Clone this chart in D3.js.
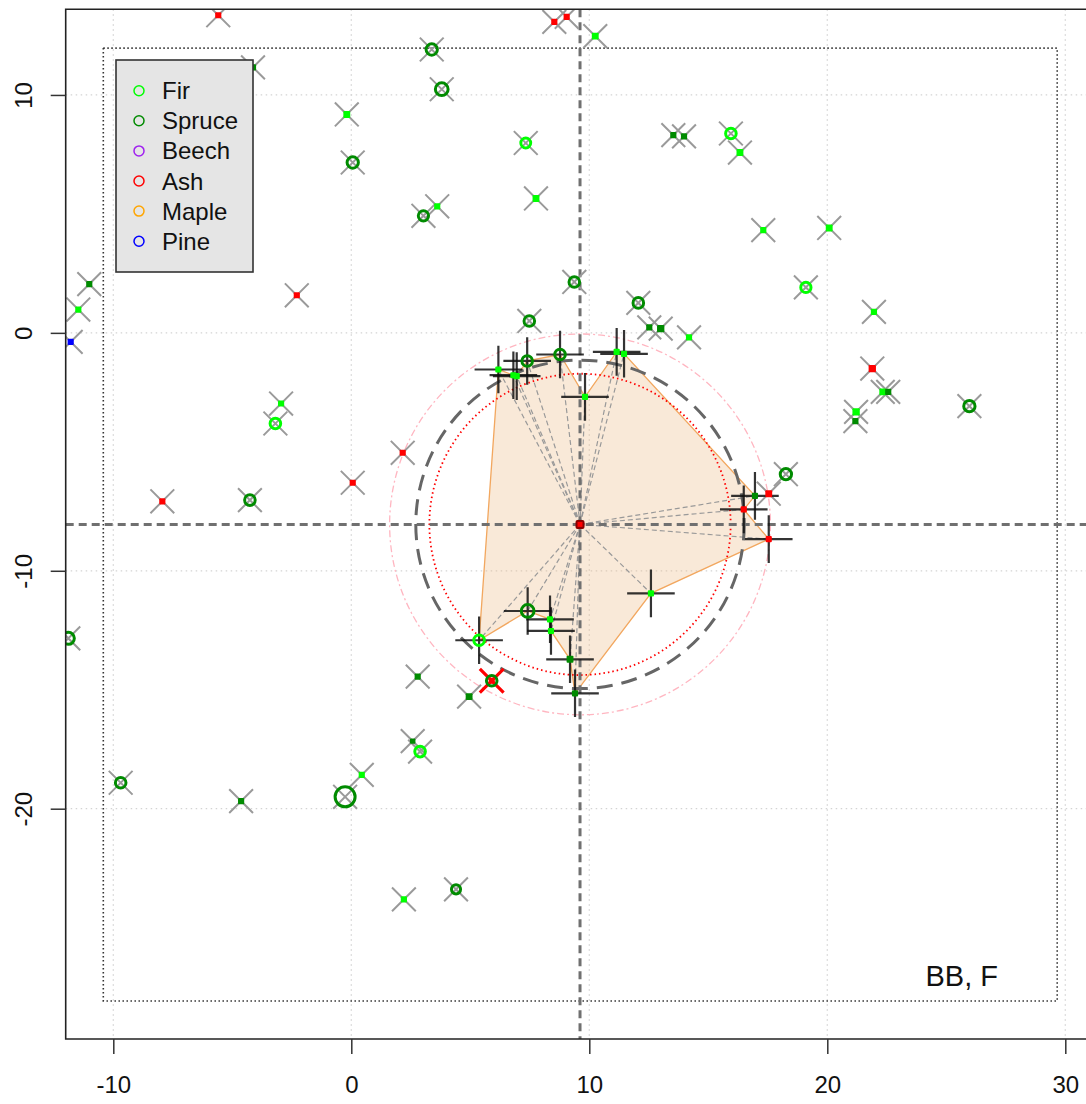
<!DOCTYPE html>
<html>
<head>
<meta charset="utf-8">
<script src="https://cdn.jsdelivr.net/npm/d3@7"></script>
<style>
  body { margin: 0; background: #fff; }
  svg { display: block; font-family: "Liberation Sans", Arial, sans-serif; }
</style>
</head>
<body>
<svg width="1086" height="1104"></svg>
<script>
const SPECIES = ["Fir", "Spruce", "Beech", "Ash", "Maple", "Pine"]
const SPECIES_COLORS = ["#00ff00", "#008b00", "#a020f0", "#ff0000", "#ffa500", "#0000ff"]

const X_TICKS = [-10, 0, 10, 20, 30]
const Y_TICKS = [-20, -10, 0, 10]
const PLOT_LABEL = "BB, F"

// focal tree and its neighbourhood radii (m)
const FOCAL = { x: 9.61, y: -8.05, sp: "Ash" }
const RADII = { inner: 6.33, mid: 6.9, outer: 8.0 }
const PLOT_BOUNDS = { x0: -10.42, x1: 29.66, y0: -28.08, y1: 11.97 }

// neighbours of the focal tree
const NB_SP = ["Fir", "Fir", "Fir", "Spruce", "Spruce", "Fir", "Fir", "Fir", "Spruce",
  "Ash", "Ash", "Fir", "Spruce", "Fir", "Fir", "Spruce", "Spruce", "Fir"]
const NB_X = [6.18, 6.81, 6.95, 7.39, 8.77, 9.82, 11.15, 11.46, 16.96,
  16.49, 17.54, 12.59, 7.41, 8.35, 8.39, 9.19, 9.40, 5.37]
const NB_Y = [-1.54, -1.78, -1.82, -1.18, -0.91, -2.69, -0.80, -0.88, -6.85,
  -7.42, -8.67, -10.95, -11.69, -12.04, -12.53, -13.72, -15.15, -12.92]
const NB_DBH = [15, 15, 15, 36, 36, 15, 15, 15, 15,
  15, 15, 15, 42, 15, 15, 18, 15, 36]

// all other trees on the plot
const BG_SP = ["Ash", "Spruce", "Fir", "Spruce", "Spruce", "Fir", "Pine", "Ash",
  "Ash", "Ash", "Fir", "Spruce", "Spruce", "Fir", "Fir", "Fir", "Spruce",
  "Spruce", "Spruce", "Spruce", "Spruce", "Spruce", "Spruce", "Fir", "Spruce",
  "Fir", "Fir", "Fir", "Fir", "Fir", "Fir", "Ash", "Fir", "Spruce", "Fir",
  "Spruce", "Spruce", "Spruce", "Ash", "Fir", "Fir", "Ash", "Spruce", "Ash",
  "Spruce", "Ash", "Spruce", "Spruce", "Spruce", "Spruce", "Spruce", "Fir",
  "Spruce", "Fir", "Fir", "Spruce"]
const BG_X = [-5.59, -4.13, -0.19, 0.06, -11.01, -11.47, -11.79, -2.29,
  8.53, 9.05, 10.25, 3.38, 3.80, 7.33, 7.76, 3.61, 3.03,
  13.53, 13.98, 9.37, 12.06, 12.52, 13.0, 14.19, 7.48,
  15.95, 16.33, 17.31, 20.08, 19.1, 21.96, 21.89, 22.33, 22.56, 21.21,
  21.18, 25.97, 18.26, 17.54, -2.95, -3.19, -7.94, -4.26, 0.06,
  -11.89, 2.16, 2.79, 4.95, -9.69, -4.63, -0.26, 0.44,
  2.58, 2.89, 2.21, 4.40]
const BG_Y = [13.35, 11.16, 9.18, 7.16, 2.05, 0.98, -0.38, 1.58,
  13.07, 13.28, 12.47, 11.91, 10.24, 7.98, 5.65, 5.32, 4.92,
  8.31, 8.26, 2.14, 1.26, 0.23, 0.18, -0.19, 0.50,
  8.38, 7.58, 4.32, 4.41, 1.91, 0.88, -1.50, -2.48, -2.48, -3.32,
  -3.71, -3.08, -5.94, -6.76, -2.97, -3.81, -7.08, -7.03, -6.30,
  -12.84, -5.04, -14.45, -15.29, -18.91, -19.68, -19.5, -18.58,
  -17.16, -17.6, -23.81, -23.39]
const BG_DBH = [15, 15, 18, 38, 15, 15, 15, 15,
  15, 15, 18, 38, 42, 34, 18, 15, 35,
  15, 15, 36, 36, 15, 20, 15, 36,
  36, 18, 15, 18, 35, 15, 20, 18, 15, 20,
  15, 38, 38, 18, 15, 36, 15, 36, 15,
  40, 15, 15, 18, 36, 15, 62, 15,
  12, 36, 15, 32]

// tree flagged for removal
const MARKED = { x: 5.90, y: -14.62, sp: "Spruce", dbh: 36 }

const RING_MIN_DBH = 30
const CROSS_HALF = 1.0   // neighbour cross arm (m)
const X_HALF = 0.5       // background x-mark arm (m)

const svg = d3.select("svg")
const x = d3.scaleLinear().domain([-12, 31.5]).range([65.7, 1101])
const y = d3.scaleLinear().domain([-29.68, 13.6]).range([1039, 9.3])
const color = d3.scaleOrdinal().domain(SPECIES).range(SPECIES_COLORS)
const ringR = d3.scaleLinear().domain([30, 62]).range([4.2, 10])
const dotSide = d3.scaleLinear().domain([10, 25]).range([5, 8.5])
const pxPerUnit = x(1) - x(0)

const [px0, px1] = x.range()
const [py1, py0] = y.range()

svg.append("defs").append("clipPath").attr("id", "plotclip")
  .append("rect")
  .attr("x", px0).attr("y", py0)
  .attr("width", px1 - px0).attr("height", py1 - py0)

const plot = svg.append("g").attr("clip-path", "url(#plotclip)")

// grid
plot.selectAll("line.gx").data(X_TICKS).enter().append("line")
  .attr("x1", (d) => x(d)).attr("x2", (d) => x(d))
  .attr("y1", py0).attr("y2", py1)
  .attr("stroke", "#d3d3d3").attr("stroke-width", 1.3).attr("stroke-dasharray", "1.5,3.5")
plot.selectAll("line.gy").data(Y_TICKS).enter().append("line")
  .attr("y1", (d) => y(d)).attr("y2", (d) => y(d))
  .attr("x1", px0).attr("x2", px1)
  .attr("stroke", "#d3d3d3").attr("stroke-width", 1.3).attr("stroke-dasharray", "1.5,3.5")

// plot boundary
plot.append("rect")
  .attr("x", x(PLOT_BOUNDS.x0)).attr("y", y(PLOT_BOUNDS.y1))
  .attr("width", x(PLOT_BOUNDS.x1) - x(PLOT_BOUNDS.x0))
  .attr("height", y(PLOT_BOUNDS.y0) - y(PLOT_BOUNDS.y1))
  .attr("fill", "none").attr("stroke", "#333").attr("stroke-width", 1.6)
  .attr("stroke-dasharray", "1.5,2.5")

const neighbours = NB_SP.map((sp, i) => ({ sp, x: NB_X[i], y: NB_Y[i], dbh: NB_DBH[i] }))
const background = BG_SP.map((sp, i) => ({ sp, x: BG_X[i], y: BG_Y[i], dbh: BG_DBH[i] }))

const fx = x(FOCAL.x), fy = y(FOCAL.y)

// outer dash-dot circle
plot.append("circle").attr("cx", fx).attr("cy", fy).attr("r", RADII.outer * pxPerUnit)
  .attr("fill", "none").attr("stroke", "#ffb6c1").attr("stroke-width", 1.3)
  .attr("stroke-dasharray", "7,3,2,3")

// neighbourhood polygon, vertices in angular order round the focal tree
const angle = (d) => Math.atan2(d.y - FOCAL.y, d.x - FOCAL.x)
const ordered = neighbours.slice().sort((a, b) => angle(a) - angle(b))
plot.append("path")
  .attr("d", d3.line().x((d) => x(d.x)).y((d) => y(d.y))(ordered) + "Z")
  .attr("fill", "rgba(238,188,138,0.33)")
  .attr("stroke", "#f2a75f").attr("stroke-width", 1.3)

// links to neighbours
plot.selectAll("line.link").data(neighbours).enter().append("line")
  .attr("x1", fx).attr("y1", fy)
  .attr("x2", (d) => x(d.x)).attr("y2", (d) => y(d.y))
  .attr("stroke", "#999").attr("stroke-width", 1.2).attr("stroke-dasharray", "5,3")

plot.append("circle").attr("cx", fx).attr("cy", fy).attr("r", RADII.inner * pxPerUnit)
  .attr("fill", "none").attr("stroke", "#ff0000").attr("stroke-width", 1.8)
  .attr("stroke-dasharray", "1.5,3")
plot.append("circle").attr("cx", fx).attr("cy", fy).attr("r", RADII.mid * pxPerUnit)
  .attr("fill", "none").attr("stroke", "#666").attr("stroke-width", 3)
  .attr("stroke-dasharray", "16,9")

// cross hair through focal tree
plot.append("line").attr("x1", fx).attr("x2", fx).attr("y1", py0).attr("y2", py1)
  .attr("stroke", "#707070").attr("stroke-width", 3).attr("stroke-dasharray", "8,5")
plot.append("line").attr("y1", fy).attr("y2", fy).attr("x1", px0).attr("x2", px1)
  .attr("stroke", "#707070").attr("stroke-width", 3).attr("stroke-dasharray", "8,5")

// gray x marks for the other trees
const xmark = (d, h) => `M${x(d.x - h)},${y(d.y - h)}L${x(d.x + h)},${y(d.y + h)}` +
  `M${x(d.x - h)},${y(d.y + h)}L${x(d.x + h)},${y(d.y - h)}`
plot.selectAll("path.xm").data(background).enter().append("path")
  .attr("d", (d) => xmark(d, X_HALF))
  .attr("stroke", "#9a9a9a").attr("stroke-width", 2).attr("fill", "none")

// crosses for neighbours
const cross = (d, h) => `M${x(d.x - h)},${y(d.y)}L${x(d.x + h)},${y(d.y)}` +
  `M${x(d.x)},${y(d.y - h)}L${x(d.x)},${y(d.y + h)}`
plot.selectAll("path.nc").data(neighbours).enter().append("path")
  .attr("d", (d) => cross(d, CROSS_HALF))
  .attr("stroke", "#111").attr("stroke-opacity", 0.85).attr("stroke-width", 2.2).attr("fill", "none")

// marked tree
plot.append("path").attr("d", xmark(MARKED, X_HALF))
  .attr("stroke", "#ff0000").attr("stroke-width", 3.2)

const drawTrees = (data) => {
  data.forEach((d) => {
    if (d.dbh >= RING_MIN_DBH) {
      plot.append("circle")
        .attr("cx", x(d.x)).attr("cy", y(d.y)).attr("r", ringR(d.dbh))
        .attr("fill", "none").attr("stroke", color(d.sp)).attr("stroke-width", 3)
    } else {
      const s = dotSide(d.dbh)
      plot.append("rect")
        .attr("x", x(d.x) - s / 2).attr("y", y(d.y) - s / 2)
        .attr("width", s).attr("height", s).attr("rx", 1)
        .attr("fill", color(d.sp))
    }
  })
}
drawTrees(background)
drawTrees(neighbours)
drawTrees([MARKED])
plot.append("rect").attr("x", x(MARKED.x) - 3).attr("y", y(MARKED.y) - 3)
  .attr("width", 6).attr("height", 6).attr("fill", "#ff0000")

// focal tree
plot.append("rect").attr("x", fx - 4.5).attr("y", fy - 4.5).attr("width", 9).attr("height", 9)
  .attr("rx", 2).attr("fill", "#8b0000")
plot.append("rect").attr("x", fx - 2.5).attr("y", fy - 2.5).attr("width", 5).attr("height", 5)
  .attr("fill", color(FOCAL.sp))

// frame
svg.append("path")
  .attr("d", `M${px1},${py0}H${px0}V${py1}H${px1}`)
  .attr("fill", "none").attr("stroke", "#222").attr("stroke-width", 1.6)

// axes
const xAxis = svg.append("g").attr("transform", `translate(0,${py1})`)
  .call(d3.axisBottom(x).tickValues(X_TICKS).tickSize(15).tickPadding(22).tickFormat(d3.format("d")))
const yAxis = svg.append("g").attr("transform", `translate(${px0},0)`)
  .call(d3.axisLeft(y).tickValues(Y_TICKS).tickSize(15).tickFormat(d3.format("d")))
;[xAxis, yAxis].forEach((a) => {
  a.select(".domain").remove()
  a.selectAll(".tick line").attr("stroke", "#333").attr("stroke-width", 1.5)
  a.selectAll("text").attr("font-size", 24).attr("fill", "#111")
    .attr("font-family", "Liberation Sans, Arial, sans-serif")
    .text((d) => String(d))
})
yAxis.selectAll("text")
  .attr("transform", "rotate(-90)")
  .attr("x", 0).attr("y", -34).attr("dy", 0)
  .attr("text-anchor", "middle")

// legend
const legend = svg.append("g")
legend.append("rect").attr("x", 116).attr("y", 60).attr("width", 137).attr("height", 212)
  .attr("fill", "#e5e5e5").attr("stroke", "#333").attr("stroke-width", 1.6)
const items = legend.selectAll("g.item").data(SPECIES).enter().append("g")
  .attr("transform", (d, i) => `translate(139,${90.7 + i * 30.1})`)
items.append("circle").attr("r", 5).attr("fill", "none")
  .attr("stroke", (d) => color(d)).attr("stroke-width", 1.5)
items.append("text").attr("x", 23).attr("y", 8.5)
  .attr("font-size", 24).attr("fill", "#111").text((d) => d)

svg.append("text").attr("x", 998).attr("y", 986).attr("text-anchor", "end")
  .attr("font-size", 29).attr("fill", "#111").text(PLOT_LABEL)
</script>
</body>
</html>
